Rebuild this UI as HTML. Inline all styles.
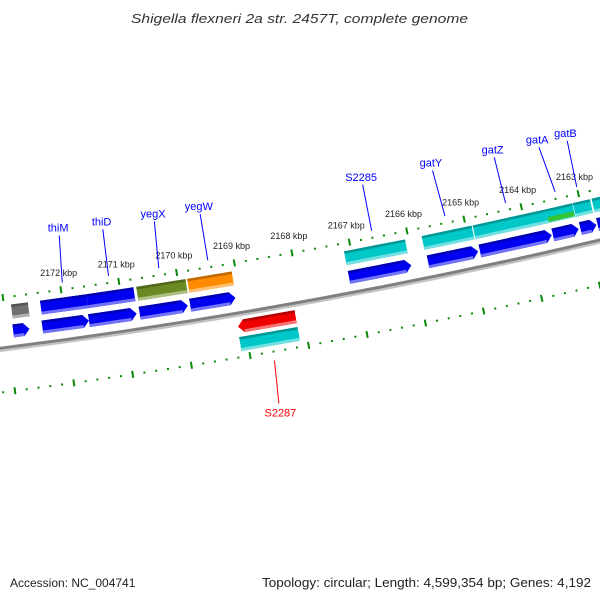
<!DOCTYPE html>
<html><head><meta charset="utf-8"><style>
html,body{margin:0;padding:0;background:#fff;}
svg{display:block;font-family:"Liberation Sans",sans-serif;}
</style></head><body>
<svg id="map" width="600" height="600" viewBox="0 0 600 600" xmlns="http://www.w3.org/2000/svg">
<rect width="600" height="600" fill="#fff"/>
<text x="131" y="23" textLength="337" lengthAdjust="spacingAndGlyphs" font-size="13" font-style="italic" fill="#333">Shigella flexneri 2a str. 2457T, complete genome</text>
<text x="10" y="587" font-size="12" fill="#222">Accession: NC_004741</text>
<text x="262" y="587" textLength="329" lengthAdjust="spacingAndGlyphs" font-size="12.5" fill="#222">Topology: circular; Length: 4,599,354 bp; Genes: 4,192</text>
<g id="plot"></g>
</svg>
<script>
// feature data (positions in kbp)
const featStart = [2172.88,2172.38,2171.58,2170.72,2169.84,2167.12,2165.77,2164.88,2163.61,2163.13,2162.80,
                   2172.90,2172.40,2171.60,2170.73,2169.86,2167.12,2165.75,2164.85,2163.58,2163.10,2162.80,
                   2169.12,2169.13];
const featEnd   = [2172.59,2171.58,2170.77,2169.87,2169.07,2166.06,2164.90,2163.61,2163.14,2162.83,2162.40,
                   2172.62,2171.60,2170.78,2169.90,2169.08,2166.04,2164.88,2163.60,2163.13,2162.82,2162.40,
                   2168.13,2168.13];
const featRow   = [0,0,0,0,0,0,0,0,0,0,0, 1,1,1,1,1,1,1,1,1,1,1, 2,3];
const featColor = ["#707070","#0000f0","#0000f0","#6b8a23","#ff8c00","#00c8c8","#00c8c8","#00c8c8","#00c8c8","#00c8c8","#00c8c8",
                   "#0000f0","#0000f0","#0000f0","#0000f0","#0000f0","#0000f0","#0000f0","#0000f0","#0000f0","#0000f0","#0000f0",
                   "#f00000","#00c8c8"];
const featArrow = [0,0,0,0,0,0,0,0,0,0,0, 1,1,1,1,1,1,1,1,1,1,1, -1,0];
// gene labels
const labelText = ["thiM","thiD","yegX","yegW","S2285","gatY","gatZ","gatA","gatB","S2287"];
const labelAnchorPos = [2171.96,2171.16,2170.29,2169.44,2166.59,2165.31,2164.25,2163.38,2163.00,2168.66];
const labelTopPos    = [2171.90,2171.14,2170.24,2169.44,2166.59,2165.36,2164.27,2163.48,2162.98,2168.61];
const labelSide      = [0,0,0,0,0,0,0,0,0,1];
// tick range
const tickMin = 2161;
const tickMax = 2174;
const tickLabelMin = 2163;
const tickLabelMax = 2172;

const NS = "http://www.w3.org/2000/svg";
const plot = document.getElementById('plot');
const Cx = -737.6, Cy = -5452, R0 = 5797, A0 = 1.39225, dA = 0.01009;
function pt(pos, d) {
  const a = A0 + (pos - 2168) * dA, r = R0 + d;
  return [Cx + r * Math.cos(a), Cy + r * Math.sin(a)];
}
function mk(tag, attrs) {
  const e = document.createElementNS(NS, tag);
  for (const k in attrs) e.setAttribute(k, attrs[k]);
  plot.appendChild(e);
  return e;
}
function poly(points, fill) {
  return mk('polygon', {points: points.map(p => p[0].toFixed(2) + ',' + p[1].toFixed(2)).join(' '), fill: fill});
}
function shade(hex, f) {
  const n = parseInt(hex.slice(1), 16);
  let r = n >> 16, g = (n >> 8) & 255, b = n & 255;
  if (f < 0) { r *= 1 + f; g *= 1 + f; b *= 1 + f; }
  else { r += (255 - r) * f; g += (255 - g) * f; b += (255 - b) * f; }
  return 'rgb(' + Math.round(r) + ',' + Math.round(g) + ',' + Math.round(b) + ')';
}
const rowD = [[8, 22], [28, 41], [57, 70], [74, 88]];
const head = 0.1;

// backbone
(function(){
  const p1 = pt(2174.5, 50), p2 = pt(2161, 50);
  const s1 = pt(2174.5, 52.5), s2 = pt(2161, 52.5);
  let e = mk('path', {d: `M${s1[0]},${s1[1]} A${R0+52.5},${R0+52.5} 0 0 0 ${s2[0]},${s2[1]}`, fill: 'none', stroke: '#c4c4c4', 'stroke-width': 2.5});
  
  
  e = mk('path', {d: `M${p1[0]},${p1[1]} A${R0+50},${R0+50} 0 0 0 ${p2[0]},${p2[1]}`, fill: 'none', stroke: '#808080', 'stroke-width': 3});
  
  
})();

// ticks
[0, 94].forEach((ring, ri) => {
  for (let i = tickMin * 5; i <= tickMax * 5; i++) {
    const pos = i / 5;
    const major = i % 5 === 0;
    const h = major ? 3.5 : 1;
    const a = pt(pos, ring - h), b = pt(pos, ring + h);
    const e = mk('line', {x1: a[0], y1: a[1], x2: b[0], y2: b[1], stroke: '#0a8a0a', 'stroke-width': 2});
    
    
    if (major && ri === 0 && pos >= tickLabelMin && pos <= tickLabelMax) {
      const t = pt(pos, -17);
      const tx = mk('text', {x: t[0].toFixed(1), y: (t[1] + 3).toFixed(1), 'text-anchor': 'middle', 'font-size': 9, fill: '#222'});
      tx.textContent = pos + ' kbp';
      
      
    }
  }
});

// features
featStart.forEach((s, i) => {
  const e0 = featEnd[i], [d1, d2] = rowD[featRow[i]], col = featColor[i], arr = featArrow[i];
  let body1 = s, body2 = e0, pts;
  if (arr === 1) {
    body2 = e0 + head;
    pts = [pt(s, d1), pt(body2, d1), pt(e0, (d1 + d2) / 2), pt(body2, d2), pt(s, d2)];
  } else if (arr === -1) {
    body1 = s - head;
    pts = [pt(s, (d1 + d2) / 2), pt(body1, d1), pt(e0, d1), pt(e0, d2), pt(body1, d2)];
  } else {
    pts = [pt(s, d1), pt(e0, d1), pt(e0, d2), pt(s, d2)];
  }
  const g = poly(pts, col);
  
  
  const top = poly([pt(body1, d1), pt(body2, d1), pt(body2, d1 + 2.5), pt(body1, d1 + 2.5)], shade(col, -0.25));
  
  
  const bot = poly([pt(body1, d2 - 3), pt(body2, d2 - 3), pt(body2, d2), pt(body1, d2)], shade(col, 0.45));
  
  
});
// gatA green overlay
(function(){
  const g = poly([pt(2163.60, 16), pt(2163.15, 16), pt(2163.15, 21), pt(2163.60, 21)], '#33c433');
  
  
})();

// labels
labelText.forEach((txt, i) => {
  const side = labelSide[i];
  const col = side ? '#ff0000' : '#0000ff';
  const a = side ? pt(labelAnchorPos[i], 146) : pt(labelAnchorPos[i], -7);
  const b = side ? pt(labelTopPos[i], 103) : pt(labelTopPos[i], -54);
  const l = mk('line', {x1: a[0], y1: a[1], x2: b[0], y2: b[1], stroke: col, 'stroke-width': 1});
  
  
  const t = side ? pt(labelAnchorPos[i], 155) : pt(labelTopPos[i], -62);
  const tx = mk('text', {x: t[0].toFixed(1), y: (t[1] + 4).toFixed(1), 'text-anchor': 'middle', 'font-size': 11, fill: col});
  tx.textContent = txt;
  
  
});
</script>
</body></html>
